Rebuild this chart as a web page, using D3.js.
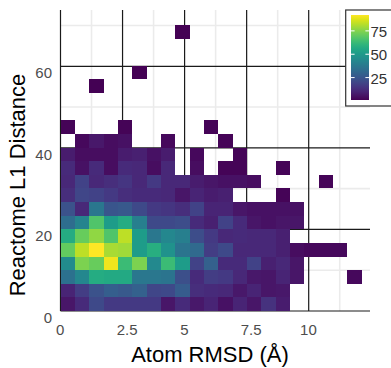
<!DOCTYPE html>
<html>
<head>
<meta charset="utf-8">
<script src="https://cdn.jsdelivr.net/npm/d3@7"></script>
<style>
  html, body { margin: 0; padding: 0; background: #fff; }
  svg { display: block; font-family: "Liberation Sans", Arial, Helvetica, sans-serif; }
</style>
</head>
<body>
<svg id="chart" width="391" height="368"></svg>
<script>
// ---------------- data ----------------
const _ = null;
const xBinWidth = 0.578;   // Atom RMSD bin width (Å)
const yBinWidth = 3.34;    // Reactome L1 distance bin width
// counts per bin, row 0 = lowest L1 distance bin, column 0 = lowest RMSD bin
const counts = [
  [ 6,12,21,16,16,16,16, 6,12, 7,10,  5,10, 6,14, 8, _, _, _, _, _],
  [10,17,24,28,26,29,20,21,27,13,12, 11, 7,10, 6, 7, _, _, _, _, _],
  [35,43,57,56,56,37,37,36,23,12,17, 16,11, 7, 6,10, 6, _, _, _, 3],
  [45,74,71,90,63,74,44,63,51,19,29, 12,12,19, 9,11, 6, _, _, _, _],
  [70,83,92,80,79,51,58,47,36,32,17, 21,11,11,11, 9, 4, 3, 3, 3, _],
  [57,71,77,67,83,51,37,43,40,22,16, 11,12,11,11, 9, _, _, _, _, _],
  [33,42,67,51,57,40,21,21,22,12, 9, 19,12, 6, 5, 6, 6, _, _, _, _],
  [24,11,37,25,26,21,16,15,13,19,10, 10, 6, 5, 5, 5, 5, _, _, _, _],
  [13,20,19,16,13,12,12,11, 6,10, 8,  9, _, _, _, 2, _, _, _, _, _],
  [11,19,11,13,15,11,16,11,11, 8, 6,  5, 5, 4, _, _, _, _, 2, _, _],
  [12, 5,12, 4,12,11, 4,11, _, 4, _,  2, 2, _, _, 2, _, _, _, _, _],
  [ 8, 4, 4, 4, 8, 9, 5, 8, _, 3, _,  _, 2, _, _, _, _, _, _, _, _],
  [ _, 3, 7, 4, 5, _, _, 3, _, _, _,  2, _, _, _, _, _, _, _, _, _],
  [ 2, _, _, _, 2, _, _, _, _, _, 2,  _, _, _, _, _, _, _, _, _, _],
  [ _, _, _, _, _, _, _, _, _, _, _,  _, _, _, _, _, _, _, _, _, _],
  [ _, _, _, _, _, _, _, _, _, _, _,  _, _, _, _, _, _, _, _, _, _],
  [ _, _, 1, _, _, _, _, _, _, _, _,  _, _, _, _, _, _, _, _, _, _],
  [ _, _, _, _, _, 1, _, _, _, _, _,  _, _, _, _, _, _, _, _, _, _],
  [ _, _, _, _, _, _, _, _, _, _, _,  _, _, _, _, _, _, _, _, _, _],
  [ _, _, _, _, _, _, _, _, _, _, _,  _, _, _, _, _, _, _, _, _, _],
  [ _, _, _, _, _, _, _, _, 1, _, _,  _, _, _, _, _, _, _, _, _, _]
];
const xMajor = [0, 2.5, 5, 7.5, 10];
const xMajorLabels = ["0", "2.5", "5", "7.5", "10"];
const xMinor = [1.25, 3.75, 6.25, 8.75, 11.25];
const yMajor = [0, 20, 40, 60];
const yMajorLabels = ["0", "20", "40", "60"];
const yMinor = [10, 30, 50, 70];
const xDomain = [0, 12.47];
const yDomain = [0, 73.8];
const countDomain = [1, 92];
const legendTicks = [25, 50, 75];
const xTitle = "Atom RMSD (Å)";
const yTitle = "Reactome L1 Distance";

// ---------------- layout ----------------
const svg = d3.select("#chart");
const panel = { left: 60.5, right: 370, top: 10, bottom: 311 };

const x = d3.scaleLinear().domain(xDomain).range([panel.left, panel.right]);
const y = d3.scaleLinear().domain(yDomain).range([panel.bottom, panel.top]);
const color = d3.scaleSequential(d3.interpolateViridis).domain(countDomain);

svg.append("rect").attr("width", 391).attr("height", 368).attr("fill", "#fff");

// minor grid
const grid = svg.append("g");
grid.selectAll("line.xmin").data(xMinor).join("line")
  .attr("x1", d => x(d)).attr("x2", d => x(d))
  .attr("y1", panel.top).attr("y2", panel.bottom)
  .attr("stroke", "#ebebeb").attr("stroke-width", 1.6);
grid.selectAll("line.ymin").data(yMinor).join("line")
  .attr("y1", d => y(d)).attr("y2", d => y(d))
  .attr("x1", panel.left).attr("x2", panel.right)
  .attr("stroke", "#ebebeb").attr("stroke-width", 1.6);
// major grid (black)
grid.selectAll("line.xmaj").data(xMajor).join("line")
  .attr("x1", d => x(d)).attr("x2", d => x(d))
  .attr("y1", panel.top).attr("y2", panel.bottom)
  .attr("stroke", "#1a1a1a").attr("stroke-width", 1.2);
grid.selectAll("line.ymaj").data(yMajor).join("line")
  .attr("y1", d => y(d)).attr("y2", d => y(d))
  .attr("x1", panel.left).attr("x2", panel.right)
  .attr("stroke", "#1a1a1a").attr("stroke-width", 1.2);

// tiles
const tiles = [];
counts.forEach((row, r) => row.forEach((v, c) => {
  if (v !== null) tiles.push({ c, r, v });
}));
svg.append("g").attr("shape-rendering", "crispEdges")
  .selectAll("rect").data(tiles).join("rect")
  .attr("x", d => x(d.c * xBinWidth))
  .attr("width", d => x((d.c + 1) * xBinWidth) - x(d.c * xBinWidth))
  .attr("y", d => y((d.r + 1) * yBinWidth))
  .attr("height", d => y(d.r * yBinWidth) - y((d.r + 1) * yBinWidth))
  .attr("fill", d => color(d.v));

// axes
const xAxis = d3.axisBottom(x).tickValues(xMajor)
  .tickFormat((d, i) => xMajorLabels[i]).tickSize(0).tickPadding(13.8);
const gx = svg.append("g").attr("transform", `translate(0,${panel.bottom})`).call(xAxis);
gx.select(".domain").remove();
gx.selectAll("text").attr("font-size", 15).attr("fill", "#4d4d4d")
  .attr("font-family", "Liberation Sans, Arial, sans-serif")
  .attr("dx", (d, i) => xMajorLabels[i].includes(".") ? 4 : -0.8);

const yAxis = d3.axisLeft(y).tickValues(yMajor)
  .tickFormat((d, i) => yMajorLabels[i]).tickSize(0).tickPadding(8.5);
const gy = svg.append("g").attr("transform", `translate(${panel.left},0)`).call(yAxis);
gy.select(".domain").remove();
gy.selectAll("text").attr("font-size", 15).attr("fill", "#4d4d4d")
  .attr("font-family", "Liberation Sans, Arial, sans-serif")
  .attr("dy", "0.75em");

// titles
svg.append("text").attr("x", 210).attr("y", 362)
  .attr("text-anchor", "middle").attr("font-size", 22).attr("fill", "#000")
  .text(xTitle);
svg.append("text").attr("transform", "translate(25,185) rotate(-90)")
  .attr("text-anchor", "middle").attr("font-size", 22).attr("fill", "#000")
  .text(yTitle);

// legend
const lg = svg.append("g");
lg.append("rect").attr("x", 345.7).attr("y", 10).attr("width", 60).attr("height", 96)
  .attr("fill", "#fff").attr("stroke", "#333").attr("stroke-width", 1.2);
const bar = { x: 351, w: 18, top: 15, bottom: 100 };
const ly = d3.scaleLinear().domain(countDomain).range([bar.bottom, bar.top]);
const defs = svg.append("defs");
const grad = defs.append("linearGradient").attr("id", "vgrad")
  .attr("x1", 0).attr("y1", 1).attr("x2", 0).attr("y2", 0);
d3.range(0, 1.0001, 0.05).forEach(t => {
  grad.append("stop").attr("offset", t)
    .attr("stop-color", color(countDomain[0] + t * (countDomain[1] - countDomain[0])));
});
lg.append("rect").attr("x", bar.x).attr("y", bar.top).attr("width", bar.w)
  .attr("height", bar.bottom - bar.top).attr("fill", "url(#vgrad)");
lg.selectAll("line.tl").data(legendTicks).join("line")
  .attr("x1", bar.x).attr("x2", bar.x + 3.6)
  .attr("y1", d => ly(d)).attr("y2", d => ly(d))
  .attr("stroke", "#fff").attr("stroke-width", 1);
lg.selectAll("line.tr").data(legendTicks).join("line")
  .attr("x1", bar.x + bar.w - 3.6).attr("x2", bar.x + bar.w)
  .attr("y1", d => ly(d)).attr("y2", d => ly(d))
  .attr("stroke", "#fff").attr("stroke-width", 1);
lg.selectAll("text").data(legendTicks).join("text")
  .attr("x", bar.x + bar.w + 1.5).attr("y", d => ly(d)).attr("dy", "0.4em")
  .attr("font-size", 15).attr("fill", "#333")
  .text(d => d);
</script>
</body>
</html>
